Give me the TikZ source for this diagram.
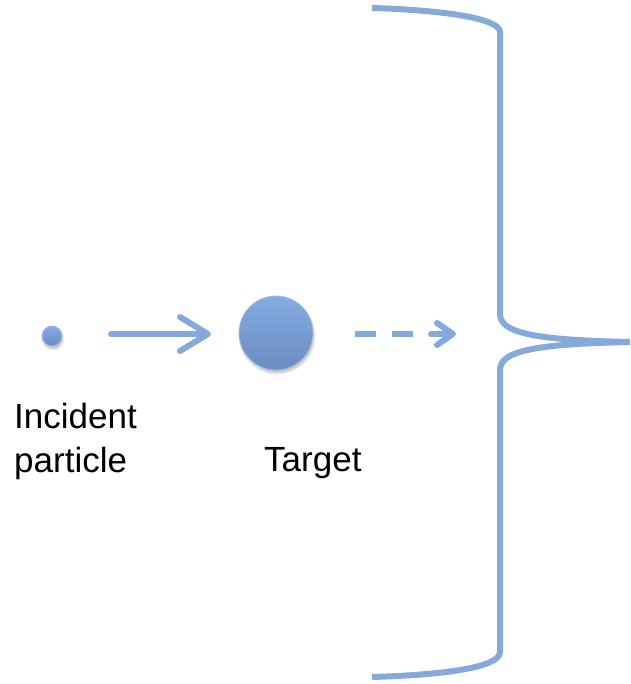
\documentclass[tikz,border=0pt]{standalone}
\usepackage{fontspec}
\setmainfont{Liberation Sans}
\usetikzlibrary{arrows.meta,shadows.blur}
\definecolor{lineblue}{HTML}{86A9DC}
\definecolor{balltop}{HTML}{86ACE2}
\definecolor{ballbot}{HTML}{6A8CC0}
\tikzset{
  x=1pt, y=-1pt,
  flow/.style={lineblue, line width=6pt, line cap=round, line join=round},
  ball/.style={circle, inner sep=0pt, top color=balltop, bottom color=ballbot,
    draw=lineblue!80, line width=0.8pt,
    blur shadow={shadow xshift=1pt, shadow yshift=-3pt, shadow blur steps=6, shadow opacity=25}},
  label/.style={font=\fontsize{35}{44}\selectfont, inner sep=0pt, align=left},
  bigtip/.style={-{Straight Barb[length=28pt, width=34pt, line width=6pt, round]}},
  smalltip/.style={-{Straight Barb[length=16pt, width=22pt, line width=6pt, round]}}
}
\begin{document}
\begin{tikzpicture}
  \useasboundingbox (0,0) rectangle (630,684);

  % particles
  \node[ball, minimum size=20pt] (inc) at (52,336) {};
  \node[ball, minimum size=74pt] (tgt) at (276,333) {};

  % arrow points
  \coordinate (a1) at (111,334);
  \coordinate (a2) at (211,334);
  \coordinate (d1) at (355,334);
  \coordinate (d2) at (456,334);

  % incoming arrow
  \draw[flow, bigtip] (a1) -- (a2);
  % outgoing dashed arrow
  \draw[flow, line cap=butt, dash pattern=on 21pt off 16pt] (d1) -- (414,334);
  \draw[flow, smalltip] (431,334) -- (d2);

  % brace
  \coordinate (bt) at (372,8);
  \coordinate (bb) at (372,677);
  \coordinate (bm) at (630,342);
  \draw[flow, line cap=butt]
    (bt) .. controls (440,10) and (500,18) .. (500,32)
    -- (500,314)
    .. controls (500,332) and (530,340) .. (bm);
  \draw[flow, line cap=butt]
    (bm) .. controls (530,344) and (500,352) .. (500,370)
    -- (500,652)
    .. controls (500,668) and (440,675) .. (bb);

  % labels
  \node[label, anchor=base west] (lab1) at (14,472) {Incident\\particle};
  \node[label, anchor=base west] (lab2) at (264,471) {Target};
\end{tikzpicture}
\end{document}
